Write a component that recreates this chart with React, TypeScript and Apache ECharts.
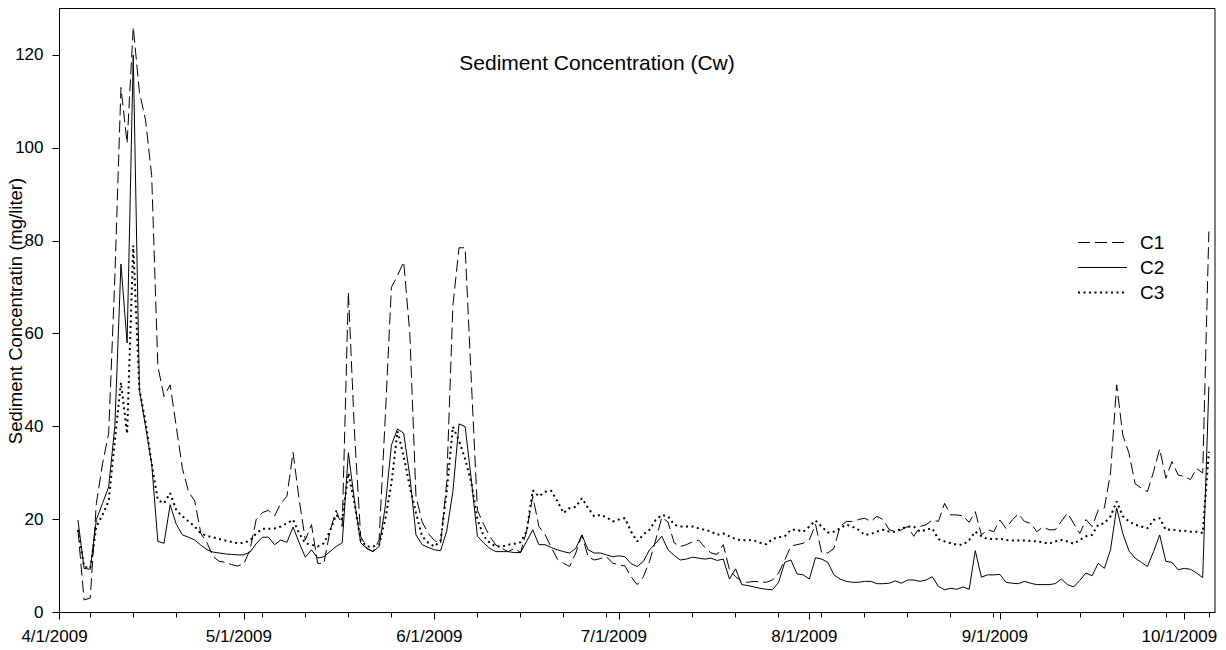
import React, { useEffect, useRef } from "react";
import * as echarts from "echarts";

// x axis: one category per day, 4/1/2009 .. 10/6/2009
const AXIS_START = Date.UTC(2009, 3, 1);
const AXIS_DAY_COUNT = 189;
const FIRST_DATA_DAY = 3; // data begin 4/4/2009
const monthTickLabels = ["4/1/2009", "5/1/2009", "6/1/2009", "7/1/2009", "8/1/2009", "9/1/2009", "10/1/2009"];
const yTicks = [0, 20, 40, 60, 80, 100, 120];
const seriesNames = ["C1", "C2", "C3"];
const titleText = "Sediment Concentration (Cw)";
const yAxisTitle = "Sediment Concentratin (mg/liter)";

// daily values from 4/4/2009 to 10/5/2009 (mg/liter)
const c1 = [
  17.8, 2.7, 3.1, 23.5, 32, 38.6, 72, 113, 101, 126, 112, 106, 94, 53, 46.5, 49, 40, 31, 26, 24,
  17, 15, 12, 11, 10.8, 10.3, 10, 10.5, 13.5, 20, 21.5, 22, 20.8, 23.5, 25, 34.5, 24.2, 15.6, 18.9, 10.6,
  10.5, 17.4, 22, 18.5, 69, 38.6, 16.4, 13.8, 13.1, 15.6, 42, 70, 72.5, 75.5, 60, 25, 19.5, 17, 15.5, 14.8,
  28, 66, 78.5, 78.5, 50, 22, 19, 16.4, 14.5, 13.8, 13.1, 13.8, 12.9, 17.5, 25, 18.5, 16.8, 14, 11.5, 10.6,
  9.9, 12.8, 16.7, 12, 11.3, 11.6, 12, 10.6, 10.3, 10, 7.7, 6, 7.7, 11, 15.6, 20.5, 19.5, 15, 14.2, 14.6,
  15.2, 15.6, 14, 12.8, 12.5, 14.6, 9.2, 7.7, 6.7, 6.5, 6.7, 6.6, 6.5, 7, 8.5, 11.3, 14.3, 14.6, 14.9, 15.6,
  19, 12.9, 12.8, 13.8, 18.5, 19.6, 19.6, 20, 20.3, 19.6, 20.7, 20, 17.8, 17.4, 17.8, 18.5, 16.4, 18.5, 18.9, 19.9,
  19.6, 23.5, 21, 21, 20.8, 19.4, 21.7, 16.7, 17.8, 17.4, 19.9, 18.1, 19.9, 21.2, 19.6, 19.2, 17.4, 18.4, 17.8, 17.8,
  19.6, 21.4, 19.2, 17, 20, 18.5, 22, 22.5, 30, 49, 38.2, 34.3, 27.7, 26.8, 26, 30.3, 35.2, 28.9, 32.5, 29.6,
  29.3, 28.6, 31, 30, 82,
];
const c2 = [
  19.9, 9.5, 9.3, 20, 23.5, 27, 40, 75, 58, 120, 48, 40, 32, 15.3, 14.9, 23.2, 19, 16.7, 16.2, 15.6,
  14.5, 13.5, 13, 12.8, 12.6, 12.5, 12.4, 12.4, 13, 14.8, 16.2, 16.2, 14.6, 15.6, 15.1, 18.4, 15, 11.9, 13.5, 11.7,
  12, 13.1, 14.2, 15, 34.4, 24, 15, 13.8, 13.1, 14.2, 22.8, 36, 39.5, 38.6, 29.3, 16.7, 14.6, 14, 13.5, 13.3,
  17.5, 26, 40.6, 40, 28.6, 16.4, 15, 13.8, 13.1, 13.1, 13.1, 12.9, 12.9, 15.3, 17.8, 14.6, 14.6, 14, 13.5, 13.1,
  12.8, 13.8, 16.7, 13.5, 12.8, 12.8, 12.4, 12, 12.2, 12, 10.5, 9.9, 11, 13.5, 14.9, 16.4, 13.5, 12.3, 11.3, 11.5,
  11.9, 11.7, 11.5, 11.7, 11.2, 11.5, 7.2, 9.4, 6, 5.8, 5.5, 5.2, 5, 4.9, 6.5, 10.8, 11.3, 8.3, 8.1, 7.2,
  11.8, 11.5, 10.8, 8.1, 7.2, 6.7, 6.5, 6.5, 6.7, 6.7, 6.2, 6.2, 6.3, 6.8, 6.3, 7, 7, 6.7, 7, 7.7,
  5.6, 4.9, 5.2, 5, 5.5, 5, 13.3, 7.6, 8.1, 8.1, 8.2, 6.5, 6.3, 6.2, 6.7, 6.3, 6, 6, 6, 6.2,
  7.2, 6, 5.5, 6.9, 8.5, 7.9, 10.6, 9.5, 13.5, 22.5, 17, 13.3, 11.7, 10.8, 9.9, 13.1, 16.7, 11, 10.8, 9.2,
  9.5, 9.3, 8.5, 7.5, 48.6,
];
const c3 = [
  17.8, 9.9, 9.5, 18.5, 21, 24, 37, 49.5, 38.5, 79, 48, 41, 32, 24.2, 23.5, 25.7, 22, 20.7, 19.6, 18.5,
  17, 16.5, 16.2, 15.8, 15.5, 15.2, 14.9, 15, 15.5, 17, 18, 18, 18.1, 18.5, 19.2, 20, 17, 14.9, 14.6, 14.2,
  14.9, 17.5, 21, 20, 30, 23.5, 15.6, 14.2, 14.2, 14.6, 20, 27.8, 39, 33.6, 27, 21.4, 16.4, 15, 14.2, 15.5,
  26, 40, 37, 33, 28, 20, 16.5, 15, 14.2, 14.2, 14.6, 14.8, 15.1, 17.5, 26.3, 25, 26, 26.2, 24, 21.4,
  22.5, 22.7, 24.6, 22.5, 20.7, 21, 20.5, 19.6, 20, 20.3, 17.4, 15.3, 16.8, 17.8, 19.9, 21, 20.7, 18.9, 18.5, 18.5,
  18.5, 18.1, 17.8, 17.4, 16.7, 17, 16.4, 15.8, 15.5, 15.6, 15.5, 15, 14.7, 15.8, 16.2, 16.4, 17.8, 17.8, 17.4, 18.5,
  19.8, 18.5, 17.2, 17.4, 18.1, 18.9, 18.5, 17.8, 16.7, 16.9, 17.4, 17.8, 17.4, 17.4, 18.1, 18.5, 18.5, 17.4, 17.8, 18.1,
  15.8, 15.3, 14.9, 14.6, 14.6, 15.6, 17.4, 16.4, 15.8, 15.8, 15.9, 15.6, 15.5, 15.5, 15.5, 15.4, 15.3, 15.1, 14.8, 15.3,
  15.6, 15.3, 14.8, 15.6, 16.4, 16.7, 18.9, 19.2, 20.7, 23.9, 20.7, 19.6, 18.9, 18.5, 18.1, 19.9, 20.3, 17.8, 17.9, 17.6,
  17.6, 17.4, 17.4, 17.1, 34.6,
];

const FONT = "Liberation Sans, Arial, Helvetica, sans-serif";
const BLACK = "#000";
const lineStyles: Record<string, { width: number; dash: number[] | null }> = {
  C1: { width: 1, dash: [12, 5] },
  C2: { width: 1, dash: null },
  C3: { width: 2, dash: [2, 3.5] },
};

function dayDate(i: number) {
  return new Date(AXIS_START + i * 86400000);
}
const categories = Array.from({ length: AXIS_DAY_COUNT }, (_, i) => {
  const d = dayDate(i);
  return `${d.getUTCMonth() + 1}/${d.getUTCDate()}/${d.getUTCFullYear()}`;
});

function pad(arr: number[]) {
  return categories.map((_, i) => {
    const k = i - FIRST_DATA_DAY;
    return k >= 0 && k < arr.length ? arr[k] : null;
  });
}

export default function App() {
  const ref = useRef<HTMLDivElement>(null);
  useEffect(() => {
    document.body.style.margin = "0";
    const chart = echarts.init(ref.current!, null, { renderer: "svg" });
    const isMonth = (i: number, v: string) => monthTickLabels.includes(v);
    const isMonday = (i: number) => dayDate(i).getUTCDay() === 1;
    const dataSets: Record<string, number[]> = { C1: c1, C2: c2, C3: c3 };

    const legendGraphics: any[] = [];
    seriesNames.forEach((name, i) => {
      const y = 242.5 + 25 * i;
      const st = lineStyles[name];
      legendGraphics.push({
        type: "line",
        shape: { x1: 1078, y1: y, x2: 1127, y2: y },
        style: { stroke: BLACK, lineWidth: st.width, lineDash: st.dash || undefined },
      });
      legendGraphics.push({
        type: "text",
        style: {
          text: name,
          x: 1140,
          y,
          textAlign: "left",
          textVerticalAlign: "middle",
          font: `19px ${FONT}`,
          fill: BLACK,
        },
      });
    });

    chart.setOption({
      animation: false,
      backgroundColor: "#fff",
      grid: {
        left: 59.5,
        right: 11,
        top: 8.5,
        bottom: 37.5,
        show: true,
        borderColor: BLACK,
        borderWidth: 1,
        containLabel: false,
        outerBoundsMode: "none",
      },
      graphic: [
        {
          type: "text",
          style: {
            text: titleText,
            x: 597,
            y: 62,
            textAlign: "center",
            textVerticalAlign: "middle",
            font: `21px ${FONT}`,
            fill: BLACK,
          },
        },
        {
          type: "text",
          x: 15,
          y: 311,
          rotation: Math.PI / 2,
          style: {
            text: yAxisTitle,
            x: 0,
            y: 0,
            textAlign: "center",
            textVerticalAlign: "middle",
            font: `18.5px ${FONT}`,
            fill: BLACK,
          },
        },
        ...legendGraphics,
      ],
      xAxis: [
        {
          type: "category",
          position: "bottom",
          data: categories,
          boundaryGap: false,
          axisLine: { show: true, lineStyle: { color: BLACK, width: 1 } },
          axisTick: { show: true, interval: isMonth, length: 7, lineStyle: { color: BLACK } },
          axisLabel: {
            interval: isMonth,
            fontSize: 17,
            color: BLACK,
            fontFamily: FONT,
            margin: 15,
            padding: [0, 10, 0, 0],
          },
          splitLine: { show: false },
        },
        {
          type: "category",
          position: "bottom",
          data: categories,
          boundaryGap: false,
          axisLine: { show: false },
          axisTick: { show: true, interval: (i: number) => isMonday(i), length: 5, lineStyle: { color: BLACK } },
          axisLabel: { show: false },
          splitLine: { show: false },
        },
      ],
      yAxis: {
        type: "value",
        min: 0,
        max: 130,
        interval: 10,
        axisLine: { show: true, lineStyle: { color: BLACK, width: 1 } },
        axisTick: { show: true, length: 7, customValues: yTicks, lineStyle: { color: BLACK } },
        axisLabel: { customValues: yTicks, fontSize: 17, color: BLACK, fontFamily: FONT, margin: 16 },
        splitLine: { show: false },
      },
      series: seriesNames.map((name) => ({
        name,
        type: "line",
        data: pad(dataSets[name]),
        symbol: "none",
        lineStyle: {
          color: BLACK,
          width: lineStyles[name].width,
          type: lineStyles[name].dash || "solid",
        },
        itemStyle: { color: BLACK },
      })),
    });
    return () => chart.dispose();
  }, []);
  return <div ref={ref} style={{ width: 1226, height: 650 }} />;
}
